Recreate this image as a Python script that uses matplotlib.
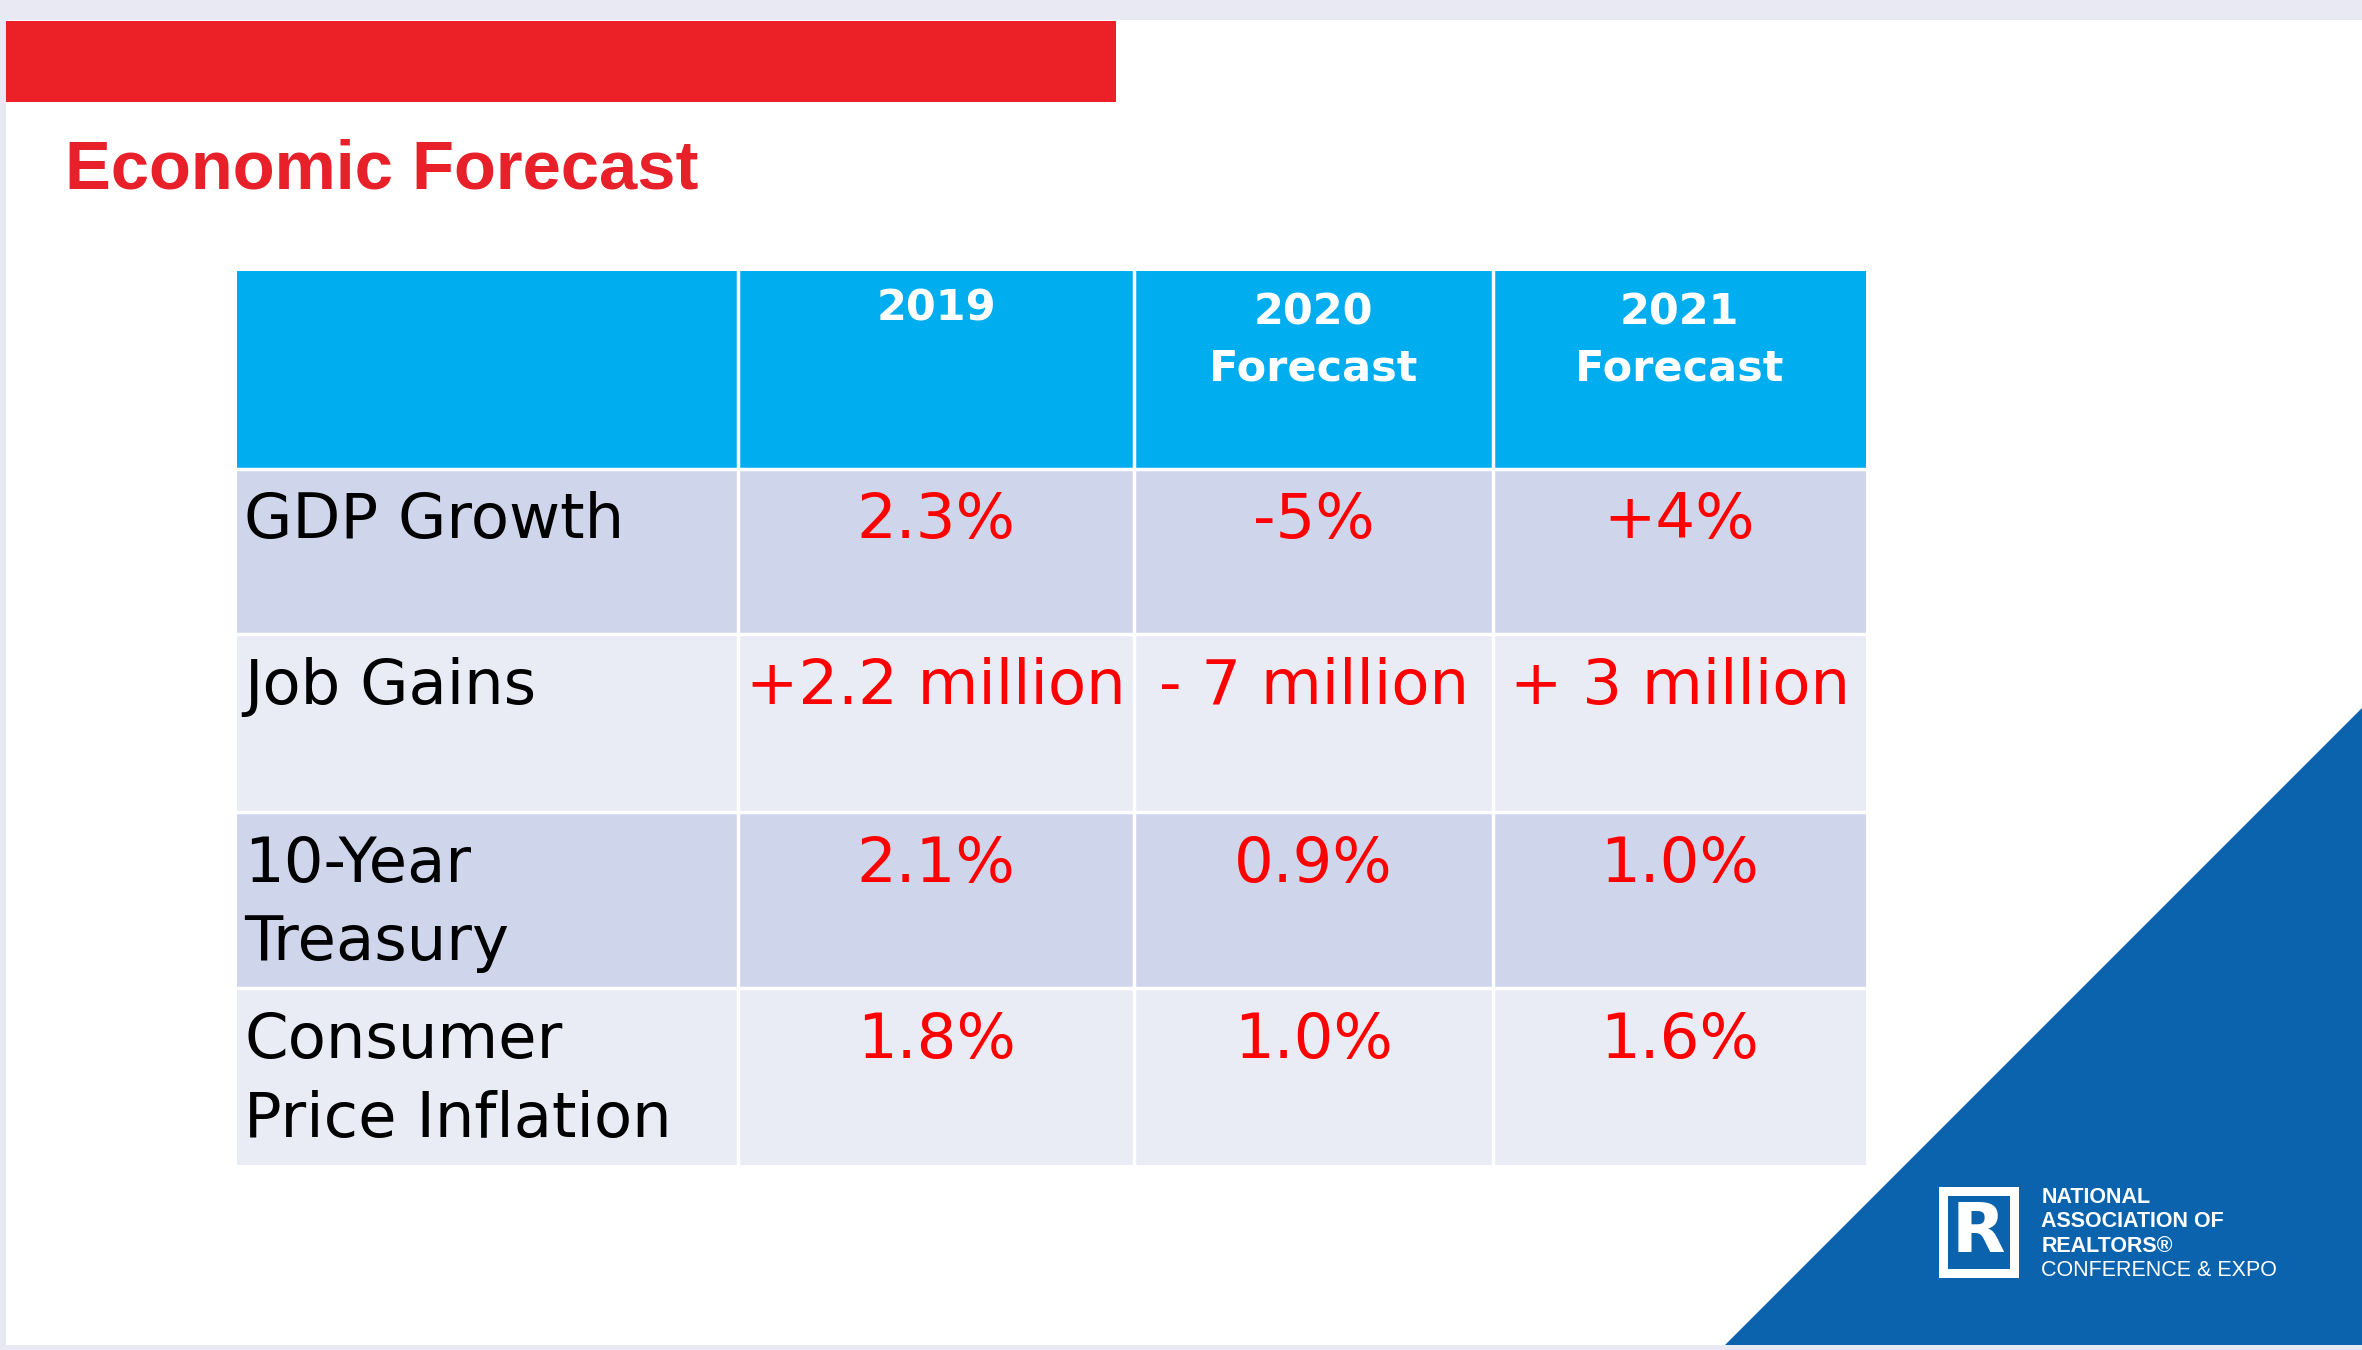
import matplotlib
matplotlib.use("Agg")
import matplotlib.pyplot as plt
import matplotlib.patches as mpatches

title = "Economic Forecast"
headers = ["2019", "2020\nForecast", "2021\nForecast"]
row_labels = ["GDP Growth", "Job Gains", "10-Year\nTreasury", "Consumer\nPrice Inflation"]
values = [
    ["2.3%", "-5%", "+4%"],
    ["+2.2 million", "- 7 million", "+ 3 million"],
    ["2.1%", "0.9%", "1.0%"],
    ["1.8%", "1.0%", "1.6%"],
]

col_edges = [157, 490, 753, 991, 1239]
row_edges = [180, 311, 421, 539, 656, 773]
row_colors = ["#cfd5ea", "#e9ebf5", "#cfd5ea", "#e9ebf5"]

fig = plt.figure(figsize=(23.62, 13.5), dpi=100)
ax = fig.add_axes([0, 0, 1, 1])
ax.set_xlim(0, 1568)
ax.set_ylim(896, 0)
ax.axis("off")
fig.patch.set_facecolor("#e8e9f3")

ax.add_patch(mpatches.Rectangle((4, 13), 1564, 880, facecolor="white", edgecolor="none"))
ax.add_patch(mpatches.Rectangle((4, 14), 737, 54, facecolor="#ec2027", edgecolor="none"))
ax.text(43, 113, title, fontsize=49.5, fontweight="bold", color="#e8202a", va="center", ha="left",
        family="Liberation Sans")

# blue corner
ax.add_patch(mpatches.Polygon([(1145, 893), (1568, 893), (1568, 470)], closed=True,
                              facecolor="#0b63ad", edgecolor="none"))

# header
ax.add_patch(mpatches.Rectangle((col_edges[0], row_edges[0]), col_edges[-1] - col_edges[0],
                                row_edges[1] - row_edges[0], facecolor="#00aeef", edgecolor="none"))
for c, h in enumerate(headers):
    xc = (col_edges[c + 1] + col_edges[c + 2]) / 2
    yc = 205 if "\n" not in h else 226
    ax.text(xc, yc, h, fontsize=31, fontweight="bold", color="white", ha="center", va="center",
            linespacing=1.4)

for r, label in enumerate(row_labels):
    y0, y1 = row_edges[r + 1], row_edges[r + 2]
    ax.add_patch(mpatches.Rectangle((col_edges[0], y0), col_edges[-1] - col_edges[0], y1 - y0,
                                    facecolor=row_colors[r], edgecolor="none"))
    ly = y0 + 35 if "\n" not in label else y0 + 61
    ax.text(162, ly, label, fontsize=45, color="black", ha="left", va="center", linespacing=1.4)
    for c, v in enumerate(values[r]):
        xc = (col_edges[c + 1] + col_edges[c + 2]) / 2
        ax.text(xc, y0 + 35, v, fontsize=45, color="#ff0000", ha="center", va="center")

# white grid lines
for x in col_edges[1:-1]:
    ax.plot([x, x], [row_edges[0], row_edges[-1]], color="white", linewidth=2.5)
for y in row_edges[1:-1]:
    ax.plot([col_edges[0], col_edges[-1]], [y, y], color="white", linewidth=2.5)

# logo
ax.add_patch(mpatches.Rectangle((1287, 788), 53, 60, facecolor="white", edgecolor="none"))
ax.add_patch(mpatches.Rectangle((1293, 794), 41, 48, facecolor="#0b63ad", edgecolor="none"))
ax.text(1313.5, 818, "R", fontsize=50, fontweight="bold", color="white", ha="center", va="center")
for i, (t, w) in enumerate([("NATIONAL", "bold"), ("ASSOCIATION OF", "bold"),
                            ("REALTORS®", "bold"), ("CONFERENCE & EXPO", "normal")]):
    ax.text(1355, 795 + i * 16, t, fontsize=15.5, fontweight=w, color="white", ha="left", va="center",
            family="Liberation Sans")

fig.savefig("out.png", dpi=100)
